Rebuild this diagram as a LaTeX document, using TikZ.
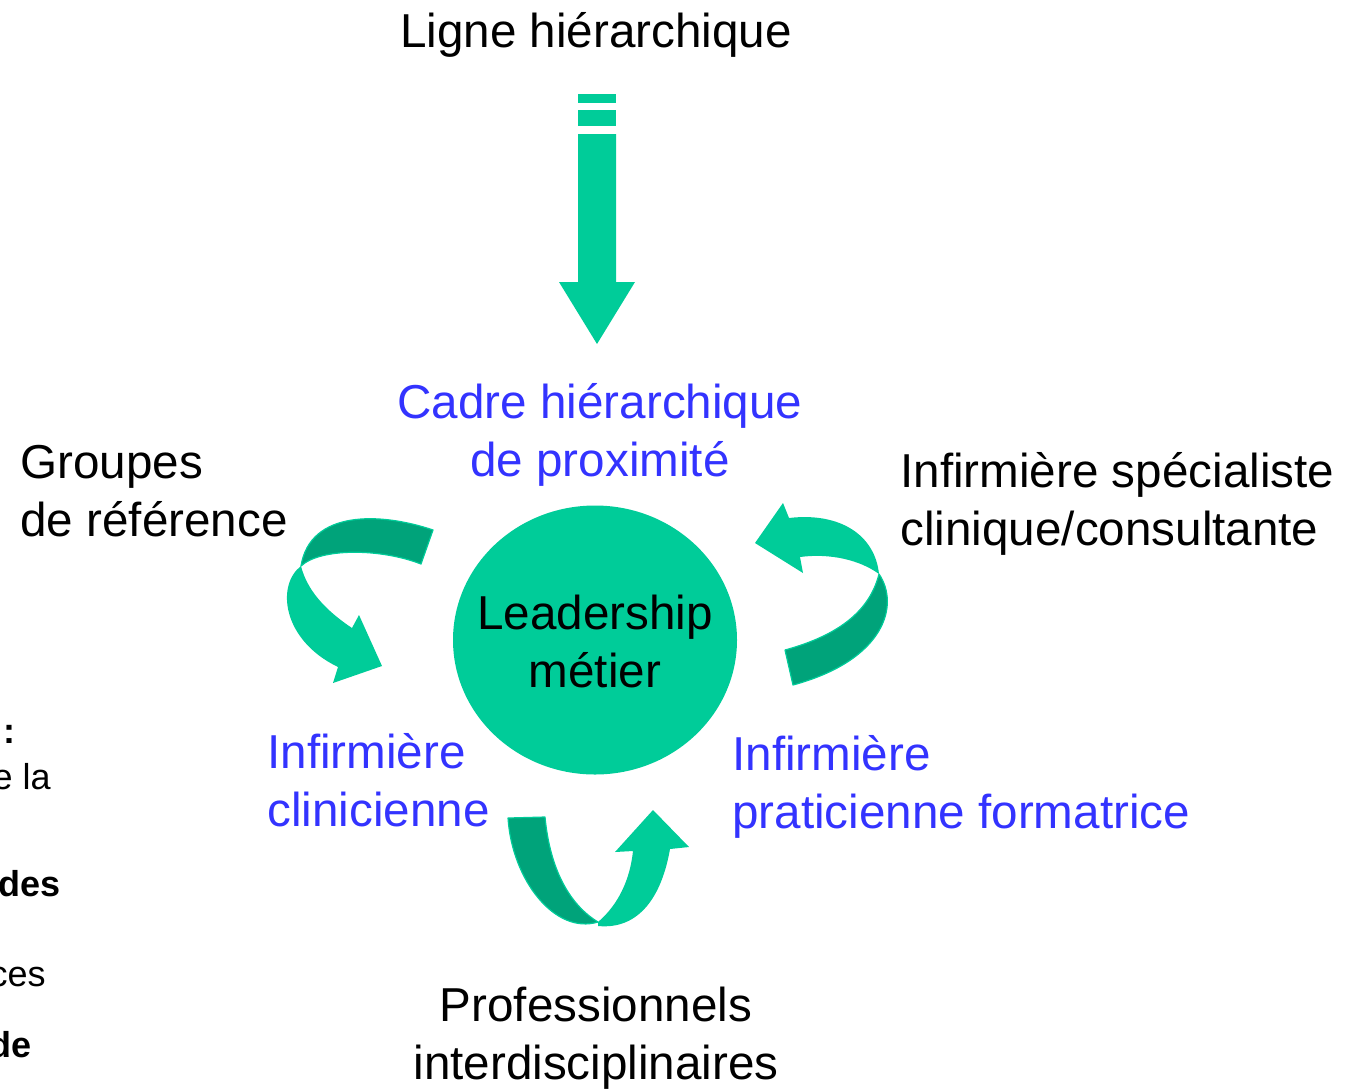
\documentclass[tikz,border=0pt]{standalone}
\usepackage{fontspec}
\setmainfont{Liberation Sans}
\usetikzlibrary{shapes.geometric}
\definecolor{vert}{HTML}{00CC99}
\definecolor{vertfonce}{HTML}{00A37A}
\definecolor{bleu}{HTML}{3333FF}
\tikzset{
  texte/.style={inner sep=0pt, align=center, font=\fontsize{23.8}{29}\selectfont},
  gauche/.style={texte, align=left, anchor=base west},
  frag/.style={inner sep=0pt, anchor=base east, font=\fontsize{18}{22}\selectfont},
  dos/.style={fill=vertfonce, draw=vert, line width=0.6pt, line join=round},
  face/.style={fill=vert}
}
\begin{document}
\begin{tikzpicture}[x=0.5pt,y=-0.5pt]
\useasboundingbox (0,0) rectangle (1355,1088);
\clip (0,0) rectangle (1355,1088);
% textes (base = ligne du bas)
\node[texte, anchor=base] (ligne) at (596,47) {Ligne hiérarchique};
\node[texte, anchor=base, text=bleu] (cadre) at (600,476) {Cadre hiérarchique\\de proximité};
\node[gauche] (groupes) at (20,536) {Groupes\\de référence};
\node[gauche] (specialiste) at (900,545) {Infirmière spécialiste\\clinique/consultante};
\node[fill=vert, ellipse, minimum width=142pt, minimum height=134.5pt, inner sep=0pt] (cercle) at (595,640) {};
\node[texte, anchor=base] (leader) at (595,687) {Leadership\\métier};
\node[gauche, text=bleu] (clinicienne) at (267,826) {Infirmière\\clinicienne};
\node[gauche, text=bleu] (praticienne) at (732,828) {Infirmière\\praticienne formatrice};
\node[texte, anchor=base] (pros) at (596,1079) {Professionnels\\interdisciplinaires};
% fragments coupes a gauche
\node[frag, font=\fontsize{18}{22}\selectfont\bfseries] (f1) at (16,743) {:};
\node[frag] (f2) at (51,789) {e la};
\node[frag, font=\fontsize{18}{22}\selectfont\bfseries] (f3) at (61,896) {des};
\node[frag] (f4) at (46,986) {ces};
\node[frag, font=\fontsize{18}{22}\selectfont\bfseries] (f5) at (32,1057) {de};
% fleche du haut
\foreach \ya/\yb in {94/103,110/126}
  \fill[vert] (578,\ya) rectangle (616,\yb);
\fill[vert] (578,134) -- (616,134) -- (616,282) -- (635,282) -- (597,344) -- (559,282) -- (578,282) -- cycle;
% fleche gauche
\filldraw[dos] (433,530) .. controls (380,512) and (310,510) .. (301,566)
  .. controls (320,548) and (380,548) .. (421,564) -- cycle;
\fill[face] (301,566) .. controls (276,585) and (282,640) .. (338,667) -- (333,683) -- (382,666)
  -- (359,615) -- (352,628) .. controls (325,610) and (307,590) .. (301,566) -- cycle;
% fleche droite
\fill[face] (789,518) .. controls (840,512) and (875,535) .. (879,574)
  .. controls (860,560) and (830,553) .. (800,557) -- (803,573) -- (755,543) -- (783,503) -- cycle;
\filldraw[dos] (879,574) .. controls (900,605) and (885,660) .. (793,685) -- (785,650)
  .. controls (840,635) and (870,610) .. (879,574) -- cycle;
% fleche du bas
\filldraw[dos] (508,818) -- (545,817) .. controls (550,870) and (570,905) .. (598,922)
  .. controls (555,935) and (512,880) .. (508,818) -- cycle;
\fill[face] (598,922) .. controls (618,905) and (630,880) .. (633,851) -- (615,852) -- (653,810)
  -- (689,847) -- (670,849) .. controls (662,895) and (640,930) .. (598,926) -- cycle;
\end{tikzpicture}
\end{document}
